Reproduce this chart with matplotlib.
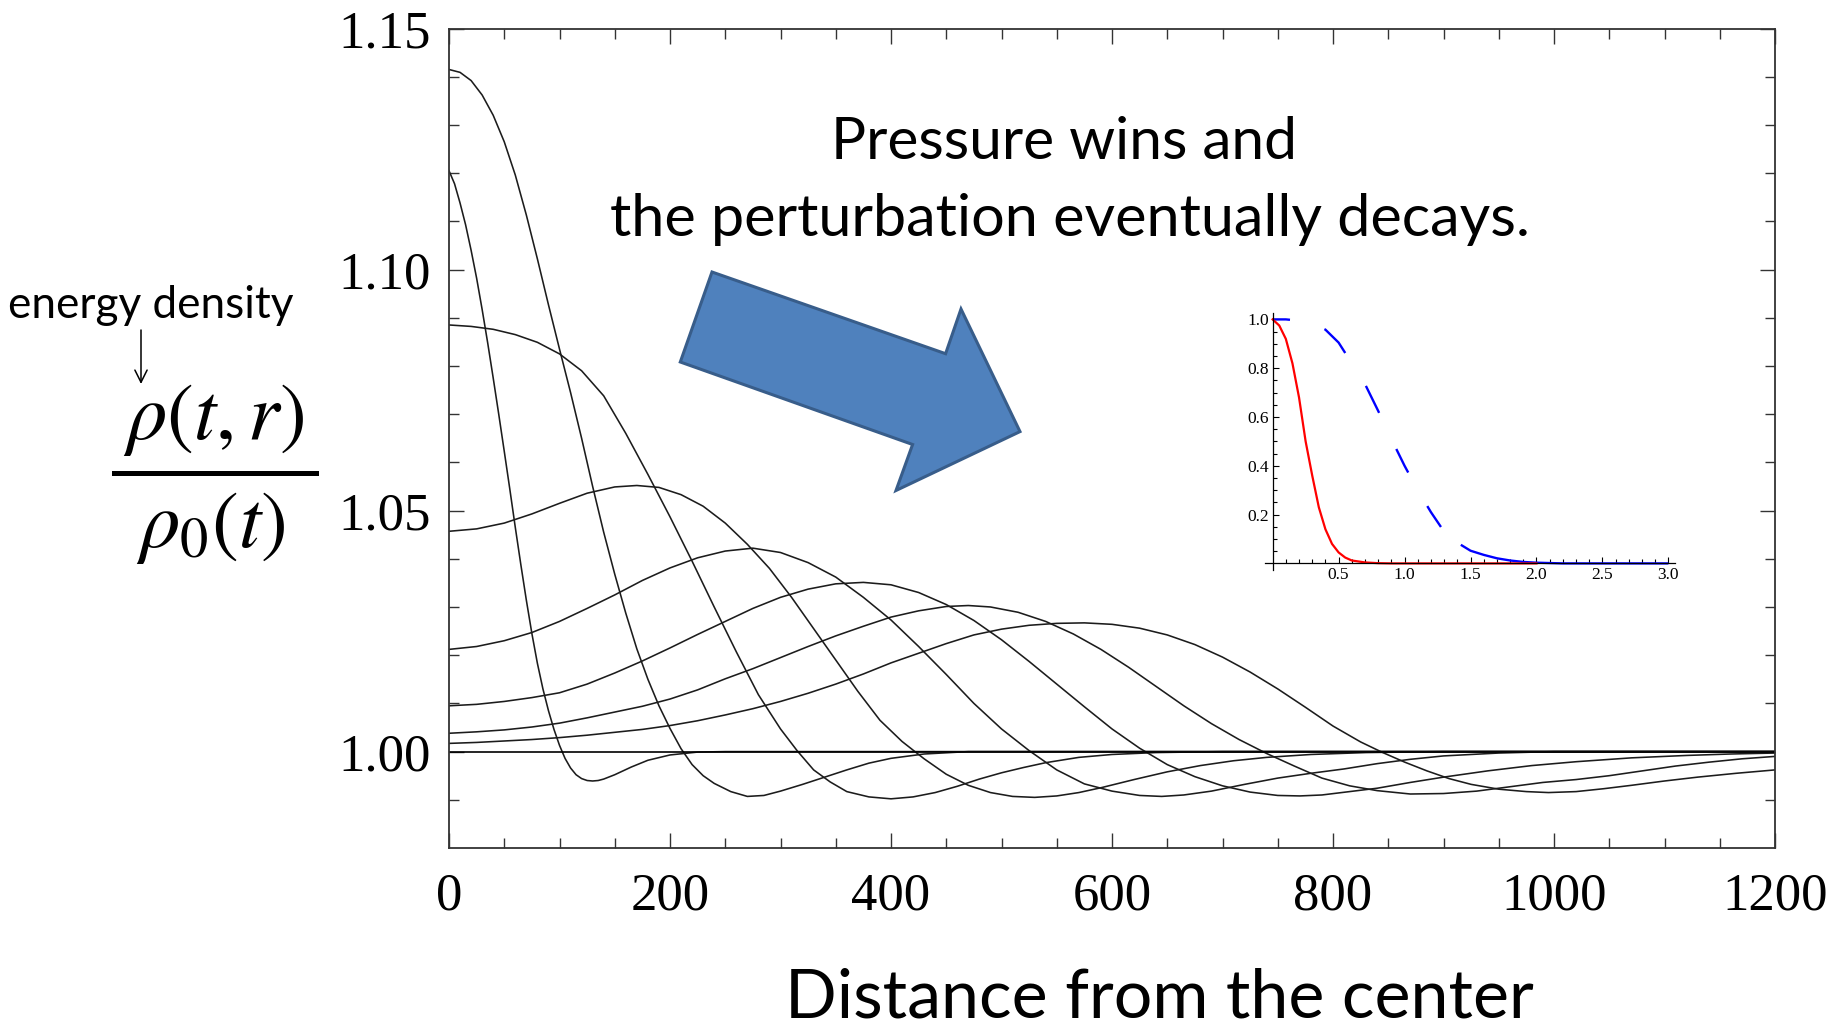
import matplotlib
matplotlib.use("Agg")
import matplotlib.pyplot as plt
from matplotlib.ticker import FixedLocator, MultipleLocator, NullFormatter
from matplotlib.patches import Polygon
from matplotlib.lines import Line2D

# ---------------- data ----------------
r_1 = [0, 5, 10, 15, 20, 25, 30, 35, 40, 45, 50, 55, 60, 65, 70, 75, 80, 85, 90, 95, 100, 105, 110, 115,
       120, 125, 130, 135, 140, 150, 165, 180, 200, 225, 250, 1200]
rho_1 = [1.1205, 1.1178, 1.1138, 1.1093, 1.1040, 1.0982, 1.0917, 1.0848, 1.0775, 1.0700, 1.0623, 1.0545,
         1.0465, 1.0388, 1.0314, 1.0245, 1.0183, 1.0130, 1.0085, 1.0046, 1.0013, 0.9986, 0.9966, 0.9952,
         0.9944, 0.9940, 0.9939, 0.9940, 0.9943, 0.9952, 0.9968, 0.9982, 0.9993, 0.9999, 1.0000, 1.0000]

r_2 = [0, 10, 20, 30, 40, 50, 60, 70, 80, 90, 100, 110, 120, 130, 140, 150, 160, 170, 180, 190, 200, 210,
       220, 230, 240, 255, 270, 285, 300, 320, 340, 360, 380, 400, 430, 470, 1200]
rho_2 = [1.1415, 1.1409, 1.1392, 1.1362, 1.1320, 1.1265, 1.1196, 1.1113, 1.1022, 1.0927, 1.0835, 1.0745,
         1.0650, 1.0550, 1.0455, 1.0368, 1.0287, 1.0213, 1.0150, 1.0095, 1.0048, 1.0006, 0.9973, 0.9950,
         0.9934, 0.9917, 0.9907, 0.9909, 0.9918, 0.9932, 0.9947, 0.9962, 0.9976, 0.9986, 0.9995, 1.0000,
         1.0000]

r_3 = [0, 20, 40, 60, 80, 100, 120, 140, 160, 180, 200, 220, 240, 260, 280, 300, 315, 330, 345, 360,
       380, 400, 420, 440, 460, 480, 500, 520, 540, 570, 600, 640, 700, 1200]
rho_3 = [1.0885, 1.0882, 1.0876, 1.0865, 1.0849, 1.0825, 1.0790, 1.0738, 1.0660, 1.0575, 1.0487, 1.0395,
         1.0300, 1.0207, 1.0118, 1.0047, 1.0002, 0.9962, 0.9937, 0.9917, 0.9906, 0.9902, 0.9906, 0.9915,
         0.9928, 0.9943, 0.9956, 0.9967, 0.9977, 0.9988, 0.9994, 0.9998, 1.0000, 1.0000]

r_4 = [0, 25, 50, 75, 100, 125, 150, 170, 190, 210, 230, 250, 270, 290, 310, 330, 350, 370, 390, 410,
       430, 450, 470, 490, 510, 530, 550, 570, 590, 620, 650, 680, 710, 740, 780, 830, 900, 1200]
rho_4 = [1.0457, 1.0462, 1.0474, 1.0493, 1.0515, 1.0536, 1.0549, 1.0552, 1.0548, 1.0533, 1.0509, 1.0474,
         1.0430, 1.0380, 1.0320, 1.0255, 1.0190, 1.0125, 1.0065, 1.0021, 0.9985, 0.9953, 0.9930, 0.9915,
         0.9907, 0.9905, 0.9908, 0.9915, 0.9925, 0.9942, 0.9958, 0.9971, 0.9981, 0.9988, 0.9994, 0.9998,
         1.0000, 1.0000]

r_5 = [0, 25, 50, 75, 100, 125, 150, 175, 200, 225, 250, 275, 300, 325, 350, 375, 400, 425, 450, 475,
       500, 525, 550, 575, 600, 625, 645, 665, 690, 720, 750, 780, 810, 840, 870, 900, 950, 1000, 1200]
rho_5 = [1.0212, 1.0218, 1.0230, 1.0247, 1.0270, 1.0297, 1.0325, 1.0355, 1.0381, 1.0402, 1.0416, 1.0422,
         1.0413, 1.0392, 1.0362, 1.0320, 1.0273, 1.0218, 1.0160, 1.0100, 1.0047, 1.0002, 0.9962, 0.9933,
         0.9918, 0.9909, 0.9907, 0.9910, 0.9918, 0.9932, 0.9945, 0.9955, 0.9964, 0.9975, 0.9984, 0.9991,
         0.9997, 1.0000, 1.0000]

r_6 = [0, 25, 50, 75, 100, 125, 150, 175, 200, 225, 250, 275, 300, 325, 350, 375, 400, 425, 450, 475,
       500, 525, 550, 575, 600, 625, 650, 675, 700, 725, 750, 770, 790, 815, 840, 870, 900, 940, 980,
       1020, 1070, 1120, 1160, 1200]
rho_6 = [1.0095, 1.0098, 1.0104, 1.0112, 1.0122, 1.0140, 1.0163, 1.0188, 1.0215, 1.0243, 1.0270, 1.0297,
         1.0320, 1.0337, 1.0348, 1.0351, 1.0346, 1.0330, 1.0305, 1.0272, 1.0232, 1.0187, 1.0140, 1.0093,
         1.0047, 1.0007, 0.9973, 0.9948, 0.9929, 0.9916, 0.9909, 0.9908, 0.9910, 0.9917, 0.9924, 0.9936,
         0.9947, 0.9960, 0.9971, 0.9979, 0.9987, 0.9992, 0.9995, 0.9997]

r_7 = [0, 25, 50, 75, 100, 125, 150, 175, 200, 225, 250, 275, 300, 325, 350, 375, 400, 425, 450, 470,
       490, 515, 540, 565, 590, 615, 640, 665, 690, 715, 740, 765, 790, 815, 840, 870, 900, 930, 960,
       990, 1020, 1050, 1080, 1110, 1140, 1170, 1200]
rho_7 = [1.0038, 1.0041, 1.0045, 1.0051, 1.0059, 1.0070, 1.0082, 1.0094, 1.0109, 1.0128, 1.0151, 1.0172,
         1.0195, 1.0218, 1.0240, 1.0260, 1.0279, 1.0292, 1.0301, 1.0303, 1.0300, 1.0289, 1.0270, 1.0244,
         1.0212, 1.0175, 1.0135, 1.0095, 1.0058, 1.0025, 0.9996, 0.9970, 0.9945, 0.9929, 0.9919, 0.9912,
         0.9913, 0.9918, 0.9927, 0.9936, 0.9942, 0.9950, 0.9960, 0.9970, 0.9978, 0.9985, 0.9990]

r_8 = [0, 25, 50, 75, 100, 125, 150, 175, 200, 225, 250, 275, 300, 325, 350, 375, 400, 425, 450, 475,
       500, 525, 550, 575, 600, 625, 650, 675, 700, 725, 750, 775, 800, 825, 845, 865, 885, 905, 925,
       950, 975, 995, 1020, 1045, 1070, 1100, 1130, 1165, 1200]
rho_8 = [1.0017, 1.0019, 1.0022, 1.0025, 1.0029, 1.0034, 1.0040, 1.0046, 1.0054, 1.0064, 1.0076, 1.0089,
         1.0104, 1.0121, 1.0140, 1.0161, 1.0184, 1.0204, 1.0224, 1.0242, 1.0254, 1.0262, 1.0266, 1.0267,
         1.0264, 1.0256, 1.0242, 1.0222, 1.0196, 1.0165, 1.0130, 1.0092, 1.0053, 1.0020, 0.9998, 0.9978,
         0.9960, 0.9944, 0.9932, 0.9922, 0.9917, 0.9915, 0.9917, 0.9923, 0.9930, 0.9939, 0.9947, 0.9955,
         0.9962]

r_flat = [0, 1200]
rho_flat = [1.0, 1.0]

x_major = [0, 200, 400, 600, 800, 1000, 1200]
x_labels = ["0", "200", "400", "600", "800", "1000", "1200"]
y_major = [1.00, 1.05, 1.10, 1.15]
y_labels = ["1.00", "1.05", "1.10", "1.15"]

# inset data
ins_r_red = [0, 0.05, 0.10, 0.15, 0.20, 0.25, 0.30, 0.35, 0.40, 0.45, 0.50, 0.55, 0.60, 0.70, 0.80, 0.90, 2.0]
ins_red = [1.0, 0.975, 0.92, 0.82, 0.68, 0.50, 0.36, 0.23, 0.14, 0.08, 0.045, 0.024, 0.012, 0.004, 0.001, 0.0, 0.0]
ins_r_blue = [0, 0.1, 0.2, 0.3, 0.4, 0.5, 0.6, 0.7, 0.8, 0.9, 1.0, 1.1, 1.2, 1.3, 1.4, 1.5, 1.6, 1.7, 1.8,
              1.9, 2.0, 2.2, 3.0]
ins_blue = [1.0, 1.0, 0.995, 0.985, 0.958, 0.905, 0.82, 0.735, 0.625, 0.51, 0.40, 0.30, 0.21, 0.13, 0.085,
            0.052, 0.035, 0.021, 0.012, 0.006, 0.003, 0.0, 0.0]
ins_x_major = [0.5, 1.0, 1.5, 2.0, 2.5, 3.0]
ins_x_labels = ["0.5", "1.0", "1.5", "2.0", "2.5", "3.0"]
ins_y_major = [0.2, 0.4, 0.6, 0.8, 1.0]
ins_y_labels = ["0.2", "0.4", "0.6", "0.8", "1.0"]

title_lines = ["Pressure wins and", "the perturbation eventually decays."]
xlabel_text = "Distance from the center"
note_text = "energy density"
numerator = r"$\rho(t,r)$"
denominator = r"$\rho_0(t)$"

# ---------------- figure ----------------
W, H, DPI = 1849, 1032, 100
plt.rcParams["mathtext.fontset"] = "stix"
plt.rcParams["lines.scale_dashes"] = False
SANS = ["Lato", "DejaVu Sans"]
SERIF = ["Liberation Serif", "DejaVu Serif"]

fig = plt.figure(figsize=(W / DPI, H / DPI), dpi=DPI, facecolor="white")


def fx(px):
    return px / W


def fy(py):
    return 1 - py / H


# main axes
ax = fig.add_axes([fx(449), fy(848), (1775 - 449) / W, (848 - 28.5) / H])
curves = [(r_1, rho_1), (r_2, rho_2), (r_3, rho_3), (r_4, rho_4),
          (r_5, rho_5), (r_6, rho_6), (r_7, rho_7), (r_8, rho_8)]
for xs, ys in curves:
    ax.plot(xs, ys, color="#1c1c1c", lw=1.15)
ax.plot(r_flat, rho_flat, color="black", lw=1.2)
ax.set_xlim(0, 1200)
ax.set_ylim(0.98, 1.15)
ax.xaxis.set_major_locator(FixedLocator(x_major))
ax.set_xticklabels(x_labels)
ax.xaxis.set_minor_locator(MultipleLocator(50))
ax.yaxis.set_major_locator(FixedLocator(y_major))
ax.set_yticklabels(y_labels)
ax.yaxis.set_minor_locator(FixedLocator([0.99 + 0.01 * i for i in range(16)]))
ax.yaxis.set_minor_formatter(NullFormatter())
ax.tick_params(which="both", direction="in", top=True, right=True, color="#333333", width=1.0)
ax.tick_params(which="major", length=11, labelsize=38)
ax.tick_params(which="minor", length=7)
ax.tick_params(axis="y", which="major", pad=13)
ax.tick_params(axis="x", which="major", pad=18)
for lab in ax.get_xticklabels() + ax.get_yticklabels():
    lab.set_fontfamily(SERIF)
for sp in ax.spines.values():
    sp.set_color("#333333")
    sp.set_linewidth(1.3)

# inset axes
ax2 = fig.add_axes([fx(1265), fy(570), (1675 - 1265) / W, (570 - 313.3) / H], facecolor="none")
ax2.plot(ins_r_blue, ins_blue, color="#0000ff", lw=1.7,
         linestyle=(0, (12.5, 26, 23, 28, 21.6, 28.8, 19, 27.8, 18, 19.4, 800, 1)))
ax2.plot(ins_r_red, ins_red, color="#ff0000", lw=1.6)
ax2.set_xlim(-0.058, 3.05)
ax2.set_ylim(-0.027, 1.025)
for s in ["top", "right"]:
    ax2.spines[s].set_visible(False)
ax2.spines["left"].set_position(("data", 0))
ax2.spines["bottom"].set_position(("data", 0))
for s in ["left", "bottom"]:
    ax2.spines[s].set_linewidth(0.9)
    ax2.spines[s].set_color("black")
ax2.xaxis.set_major_locator(FixedLocator(ins_x_major))
ax2.set_xticklabels(ins_x_labels)
ax2.xaxis.set_minor_locator(FixedLocator([0.1 * i for i in range(1, 31)]))
ax2.yaxis.set_major_locator(FixedLocator(ins_y_major))
ax2.set_yticklabels(ins_y_labels)
ax2.yaxis.set_minor_locator(FixedLocator([0.05 * i for i in range(1, 21)]))
ax2.xaxis.set_minor_formatter(NullFormatter())
ax2.yaxis.set_minor_formatter(NullFormatter())
ax2.tick_params(which="both", direction="in", color="black", width=0.8, labelsize=12.5, pad=2.5)
ax2.tick_params(which="major", length=4.5)
ax2.tick_params(which="minor", length=2.6)
for lab in ax2.get_xticklabels() + ax2.get_yticklabels():
    lab.set_fontfamily(SERIF)

# block arrow (figure decoration)
arrow_px = [(712, 272), (945.6, 353.7), (961, 309), (1020, 431.6), (896, 490.5), (912.6, 444.5), (680.3, 362)]
fig.patches.append(Polygon([(fx(a), fy(b)) for a, b in arrow_px], closed=True, transform=fig.transFigure,
                           facecolor="#4f81bd", edgecolor="#385d8a", linewidth=2.2, zorder=5))

renderer = fig.canvas.get_renderer()


def fit_text(xp, yp, s, target_w, size, **kw):
    t = fig.text(fx(xp), fy(yp), s, fontsize=size, **kw)
    w = t.get_window_extent(renderer).width
    t.set_fontsize(size * target_w / w)
    return t


fit_text(1064, 159, title_lines[0], 466, 46, family=SANS, ha="center", va="baseline")
fit_text(1070, 236, title_lines[1], 920, 46, family=SANS, ha="center", va="baseline")
fit_text(1159, 1018, xlabel_text, 749, 52, family=SANS, ha="center", va="baseline")
fit_text(151, 318, note_text, 285, 24, family=SANS, ha="center", va="baseline")

fig.text(fx(213), fy(419), numerator, fontsize=58, ha="center", va="center")
fig.text(fx(211), fy(527), denominator, fontsize=58, ha="center", va="center")
fig.lines.append(Line2D([fx(114), fx(316)], [fy(473), fy(473)], transform=fig.transFigure,
                        color="black", lw=3.6))
ax.annotate("", xy=(fx(141), fy(384)), xytext=(fx(141), fy(330)), xycoords="figure fraction",
            textcoords="figure fraction",
            arrowprops=dict(arrowstyle="->", lw=1.1, color="black", mutation_scale=22, shrinkA=0, shrinkB=0))

fig.savefig("out.png", dpi=DPI, facecolor="white")
